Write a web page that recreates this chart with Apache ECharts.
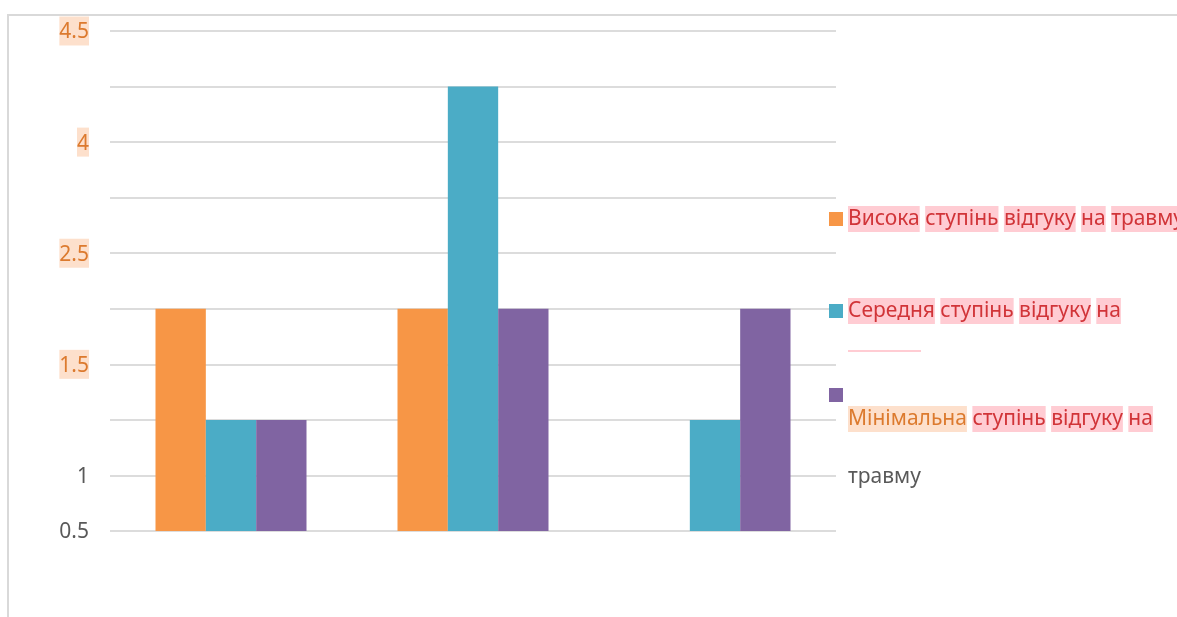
<!DOCTYPE html>
<html>
<head>
<meta charset="utf-8">
<script src="https://cdn.jsdelivr.net/npm/echarts@6/dist/echarts.min.js"></script>
<style>
  html, body { margin: 0; padding: 0; background: #ffffff; }
  #chart { width: 1177px; height: 617px; }
</style>
</head>
<body>
<div id="chart"></div>
<script>
// Three groups of bars, one per category
const categories = ['Група 1', 'Група 2', 'Група 3'];

// Series names
const seriesNames = [
  'Висока ступінь відгуку на травму',
  'Середня ступінь відгуку на травму',
  'Мінімальна ступінь відгуку на травму'
];

// Bar heights in gridline steps (0 = bottom gridline)
const highValues = [4, 4, null];
const mediumValues = [2, 8, 2];
const minimalValues = [2, 4, 4];

// Text shown at each gridline, bottom to top ('' = no label)
const yTickLabels = ['0.5', '1', '', '1.5', '', '2.5', '', '4', '', '4.5'];
// Which tick labels carry the highlighted orange style
const yTickHighlighted = [false, false, false, true, false, true, false, true, false, true];

const colors = ['#f79646', '#4bacc6', '#8064a2'];
const FONT = 'Noto Sans';
const FS = 21;
const RED = '#d13438';
const PINK = '#ffccd3';
const ORANGE_TXT = '#dc7a2e';
const PEACH = '#fde0cc';
const GRAY = '#595959';

function redWords(words) {
  return words.map(w => '{r|' + w + '}').join(' ');
}

const chart = echarts.init(document.getElementById('chart'), null, { renderer: 'canvas' });

const legendRich = {
  r: { color: RED, backgroundColor: PINK, fontFamily: FONT, fontSize: FS, lineHeight: 26, height: 26 },
  o: { color: ORANGE_TXT, backgroundColor: PEACH, fontFamily: FONT, fontSize: FS, lineHeight: 26, height: 26 }
};

function legendFor(idx, top, formatter, extra) {
  return Object.assign({
    data: [seriesNames[idx]],
    left: 829,
    top: top,
    padding: 0,
    orient: 'vertical',
    icon: 'rect',
    itemWidth: 14,
    itemHeight: 14,
    selectedMode: false,
    formatter: formatter,
    textStyle: { fontFamily: FONT, fontSize: FS, color: RED, rich: legendRich }
  }, extra || {});
}

const option = {
  animation: false,
  backgroundColor: '#ffffff',
  color: colors,
  grid: { left: 110, right: 341, top: 31, bottom: 86, containLabel: false },
  xAxis: {
    type: 'category',
    data: categories,
    axisLine: { show: false },
    axisTick: { show: false },
    axisLabel: { show: false },
    splitLine: { show: false }
  },
  yAxis: {
    type: 'value',
    min: 0,
    max: 9,
    interval: 1,
    axisLine: { show: false },
    axisTick: { show: false },
    splitLine: { show: true, lineStyle: { color: '#dcdcdc', width: 2 } },
    axisLabel: {
      margin: 21,
      fontFamily: FONT,
      fontSize: FS,
      formatter: function (v) {
        const t = yTickLabels[v];
        if (!t) return '';
        return yTickHighlighted[v] ? '{o|' + t + '}' : '{g|' + t + '}';
      },
      rich: {
        o: { color: ORANGE_TXT, backgroundColor: PEACH, fontFamily: FONT, fontSize: FS, lineHeight: 26, height: 26, padding: [3, 0, 0, 0] },
        g: { color: GRAY, fontFamily: FONT, fontSize: FS, lineHeight: 26, padding: [3, 0, 0, 0] }
      }
    }
  },
  legend: [
    legendFor(0, 206, function () {
      return redWords(['Висока', 'ступінь', 'відгуку', 'на', 'травму']);
    }),
    legendFor(1, 298, function () {
      return redWords(['Середня', 'ступінь', 'відгуку', 'на']);
    }),
    legendFor(2, 388, function () {
      return '{o|Мінімальна} ' + redWords(['ступінь', 'відгуку', 'на']);
    }, {
      textStyle: { fontFamily: FONT, fontSize: FS, color: RED, rich: legendRich, padding: [48, 0, 0, 0] }
    })
  ],
  graphic: [
    // frame lines along the top and left
    {
      type: 'polyline',
      silent: true,
      shape: { points: [[8, 617], [8, 15], [1177, 15]] },
      style: { stroke: '#d9d9d9', lineWidth: 2, fill: null }
    },
    // wrapped, empty highlighted line of the second legend entry
    {
      type: 'rect',
      silent: true,
      shape: { x: 848, y: 350, width: 73, height: 2 },
      style: { fill: PINK }
    },
    // wrapped tail of the third legend entry
    {
      type: 'text',
      silent: true,
      left: 848,
      top: 467,
      style: { text: 'травму', fill: GRAY, font: FS + 'px "Noto Sans"' }
    }
  ],
  series: [
    { name: seriesNames[0], type: 'bar', data: highValues, barGap: '0%', barCategoryGap: '37.6%' },
    { name: seriesNames[1], type: 'bar', data: mediumValues, barGap: '0%', barCategoryGap: '37.6%' },
    { name: seriesNames[2], type: 'bar', data: minimalValues, barGap: '0%', barCategoryGap: '37.6%' }
  ]
};

chart.setOption(option);
</script>
</body>
</html>
